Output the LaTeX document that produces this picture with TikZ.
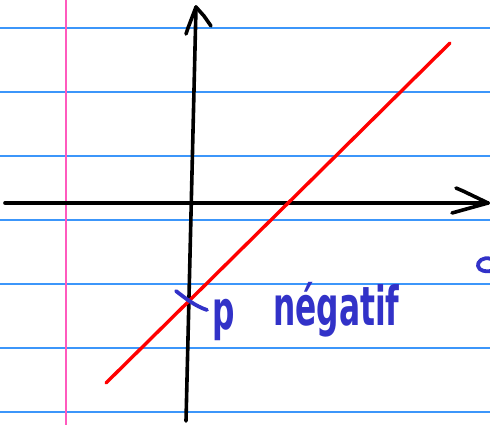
\documentclass[tikz,border=0pt]{standalone}
\usepackage{fontspec}
\newfontfamily\handfont{DejaVu Sans}
\definecolor{ruleblue}{RGB}{60,150,250}
\definecolor{marginpink}{RGB}{255,90,190}
\definecolor{inkblue}{RGB}{50,50,200}
\tikzset{
  ruleline/.style={draw=ruleblue, line width=1.6pt},
  marginline/.style={draw=marginpink, line width=2pt},
  axisline/.style={draw=black, line width=3.6pt, line cap=round, line join=round},
  redline/.style={draw=red, line width=3.4pt, line cap=round},
  inkstroke/.style={draw=inkblue, line width=3.8pt, line cap=round, line join=round},
  inktext/.style={text=inkblue, font=\handfont\bfseries\fontsize{54}{60}\selectfont, inner sep=0pt, xscale=0.58, transform shape}
}
\begin{document}
\begin{tikzpicture}[x=1pt, y=-1pt]
\useasboundingbox[fill=white] (0,0) rectangle (490,425);
% ruled paper
\foreach \yy in {28,92,156,220,284,348,412}
  \draw[ruleline] (0,\yy) -- (490,\yy);
\draw[marginline] (66,0) -- (66,425);
% axes
\coordinate (xs) at (5,203);
\coordinate (xe) at (488,203);
\coordinate (xa1) at (456,188);
\coordinate (xa2) at (452,213);
\draw[axisline] (xs) -- (xe);
\draw[axisline] (xa1) -- (463,191) -- (xe) -- (xa2);
\coordinate (ys) at (186,421);
\coordinate (ye) at (196,7);
\coordinate (ya1) at (186,34);
\coordinate (ya2) at (211,26);
\draw[axisline] (ys) -- (ye);
\draw[axisline] (ya1) -- (188,28) -- (ye) -- (204,16) -- (ya2);
% red line
\coordinate (r1) at (106,383);
\coordinate (r2) at (450,43);
\draw[redline] (r1) -- (r2);
% cross mark at intercept
\coordinate (m1) at (176,291);
\coordinate (m2) at (207,310);
\draw[inkstroke] (m1) .. controls (185,298) and (195,306) .. (m2);
% labels
\node[inktext, anchor=base west] (plabel) at (212,329) {p};
\node[inktext, anchor=base west] (neg) at (273,325) {négatif};
% cut-off letter at right edge
\draw[inkstroke] (491,259) .. controls (483,256) and (477,262) .. (478,266) .. controls (479,271) and (486,272) .. (491,271);
\end{tikzpicture}
\end{document}
